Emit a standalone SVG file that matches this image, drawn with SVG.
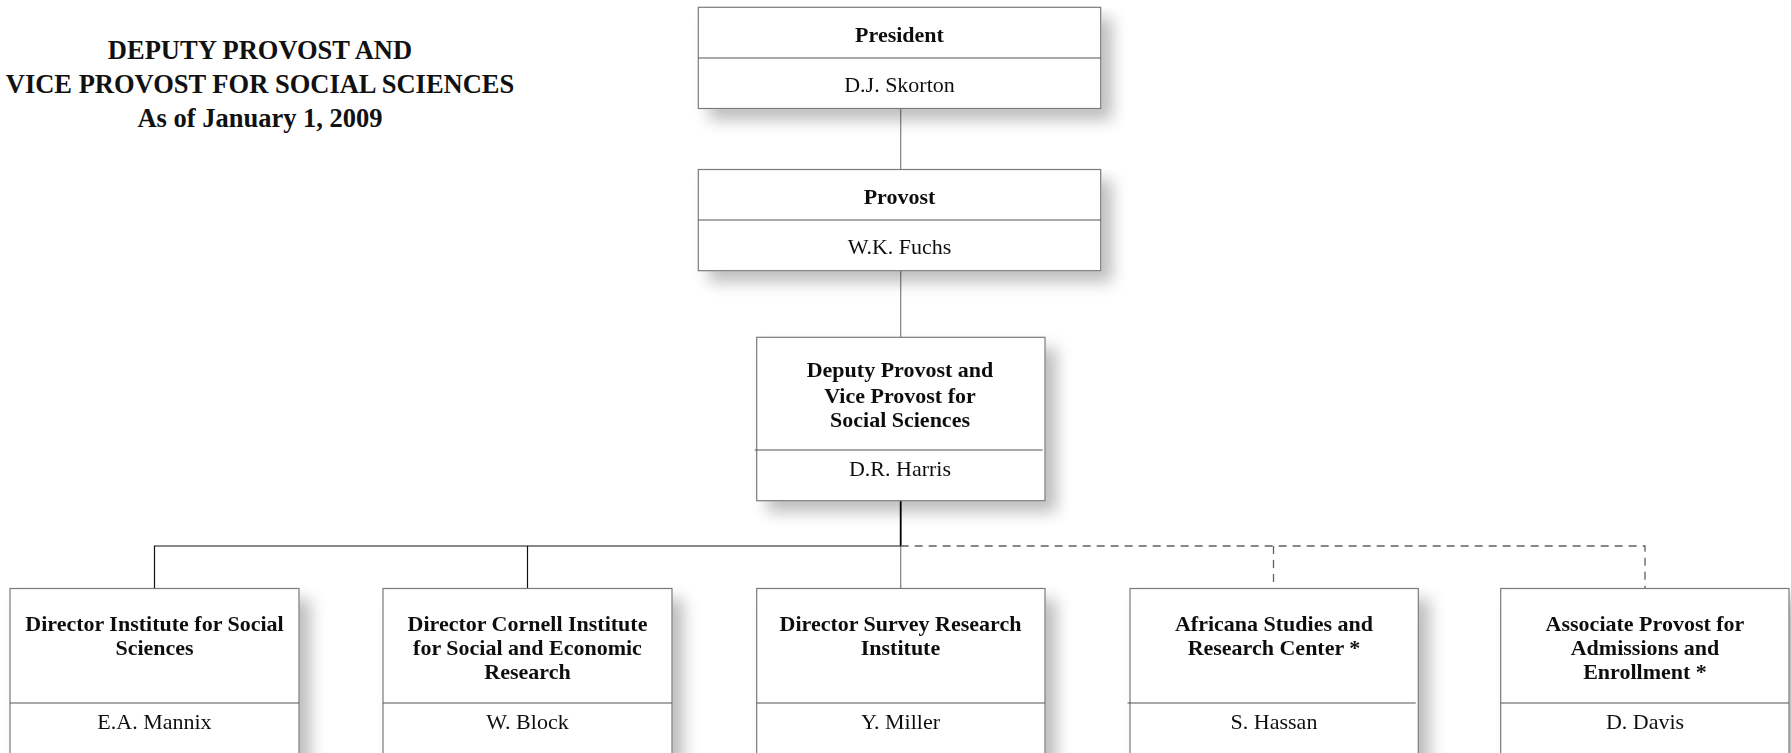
<svg xmlns="http://www.w3.org/2000/svg" width="1791" height="753" viewBox="0 0 1791 753">
<style>
  .box { fill: #ffffff; stroke: #7a7a7a; stroke-width: 1.2; }
  .div { stroke: #555555; stroke-width: 1.2; }
  .t { font-family: "Liberation Serif", "Times New Roman", serif; font-size: 22px; fill: #111; text-anchor: middle; }
  .b { font-weight: bold; }
  .title { font-family: "Liberation Serif", "Times New Roman", serif; font-size: 26.5px; font-weight: bold; fill: #111; text-anchor: middle; }
  .cg { stroke: #808080; stroke-width: 1.2; fill: none; }
  .ck { stroke: #111; stroke-width: 1.2; fill: none; }
  .cd { stroke: #606060; stroke-width: 1.3; fill: none; stroke-dasharray: 8 6; }
</style>
<defs>
  <filter id="sh" x="-10%" y="-10%" width="130%" height="140%">
    <feGaussianBlur in="SourceAlpha" stdDeviation="8"/>
    <feOffset dx="11" dy="11" result="o"/>
    <feComponentTransfer><feFuncA type="linear" slope="0.26"/></feComponentTransfer>
    <feMerge><feMergeNode/><feMergeNode in="SourceGraphic"/></feMerge>
  </filter>
</defs>
<rect width="1791" height="753" fill="#ffffff"/>

<g id="title">
  <text class="title" x="260" y="59">DEPUTY PROVOST AND</text>
  <text class="title" x="260" y="93">VICE PROVOST FOR SOCIAL SCIENCES</text>
  <text class="title" x="260" y="127">As of January 1, 2009</text>
</g>

<g id="connectors">
  <line class="cg" x1="900.7" y1="108.5" x2="900.7" y2="169.5"/>
  <line class="cg" x1="900.7" y1="270.7" x2="900.7" y2="337.3"/>
  <line x1="900.7" y1="500.7" x2="900.7" y2="546" stroke="#000" stroke-width="1.8"/>
  <line class="cg" x1="900.7" y1="546" x2="900.7" y2="588.5"/>
  <polyline class="ck" points="154.5,588.5 154.5,546 900.7,546"/>
  <line class="ck" x1="527.5" y1="546" x2="527.5" y2="588.5"/>
  <polyline class="cd" points="900.7,546 1645,546 1645,588.5"/>
  <line class="cd" x1="1273.5" y1="546" x2="1273.5" y2="588.5"/>
</g>

<g id="president" filter="url(#sh)">
  <rect class="box" x="698.3" y="7.3" width="402.4" height="101.2"/>
  <line class="div" x1="698.3" y1="58" x2="1100.7" y2="58"/>
  <text class="t b" x="899.5" y="42">President</text>
  <text class="t" x="899.5" y="91.5">D.J. Skorton</text>
</g>

<g id="provost" filter="url(#sh)">
  <rect class="box" x="698.3" y="169.5" width="402.4" height="101.2"/>
  <line class="div" x1="698.3" y1="220" x2="1100.7" y2="220"/>
  <text class="t b" x="899.5" y="204">Provost</text>
  <text class="t" x="899.5" y="254">W.K. Fuchs</text>
</g>

<g id="deputy" filter="url(#sh)">
  <rect class="box" x="756.7" y="337.3" width="288.3" height="163.4"/>
  <line class="div" x1="754.7" y1="450" x2="1042.7" y2="450"/>
  <text class="t b" x="900" y="377">Deputy Provost and</text>
  <text class="t b" x="900" y="402.5">Vice Provost for</text>
  <text class="t b" x="900" y="427">Social Sciences</text>
  <text class="t" x="900" y="476">D.R. Harris</text>
</g>

<g id="iss" filter="url(#sh)">
  <rect class="box" x="10" y="588.5" width="289" height="200"/>
  <line class="div" x1="10" y1="703" x2="299" y2="703"/>
  <text class="t b" x="154.5" y="631">Director Institute for Social</text>
  <text class="t b" x="154.5" y="655">Sciences</text>
  <text class="t" x="154.5" y="729">E.A. Mannix</text>
</g>

<g id="ciser" filter="url(#sh)">
  <rect class="box" x="383" y="588.5" width="289" height="200"/>
  <line class="div" x1="383" y1="703" x2="672" y2="703"/>
  <text class="t b" x="527.5" y="631">Director Cornell Institute</text>
  <text class="t b" x="527.5" y="655">for Social and Economic</text>
  <text class="t b" x="527.5" y="679">Research</text>
  <text class="t" x="527.5" y="729">W. Block</text>
</g>

<g id="sri" filter="url(#sh)">
  <rect class="box" x="756.7" y="588.5" width="288.3" height="200"/>
  <line class="div" x1="756.7" y1="703" x2="1045" y2="703"/>
  <text class="t b" x="900.5" y="631">Director Survey Research</text>
  <text class="t b" x="900.5" y="655">Institute</text>
  <text class="t" x="900.5" y="729">Y. Miller</text>
</g>

<g id="africana" filter="url(#sh)">
  <rect class="box" x="1130" y="588.5" width="288.3" height="200"/>
  <line class="div" x1="1127.5" y1="703" x2="1415.7" y2="703"/>
  <text class="t b" x="1274" y="631">Africana Studies and</text>
  <text class="t b" x="1274" y="655">Research Center *</text>
  <text class="t" x="1274" y="729">S. Hassan</text>
</g>

<g id="admissions" filter="url(#sh)">
  <rect class="box" x="1500.7" y="588.5" width="288.3" height="200"/>
  <line class="div" x1="1500.7" y1="703" x2="1789" y2="703"/>
  <text class="t b" x="1645" y="631">Associate Provost for</text>
  <text class="t b" x="1645" y="655">Admissions and</text>
  <text class="t b" x="1645" y="679">Enrollment *</text>
  <text class="t" x="1645" y="729">D. Davis</text>
</g>
</svg>
